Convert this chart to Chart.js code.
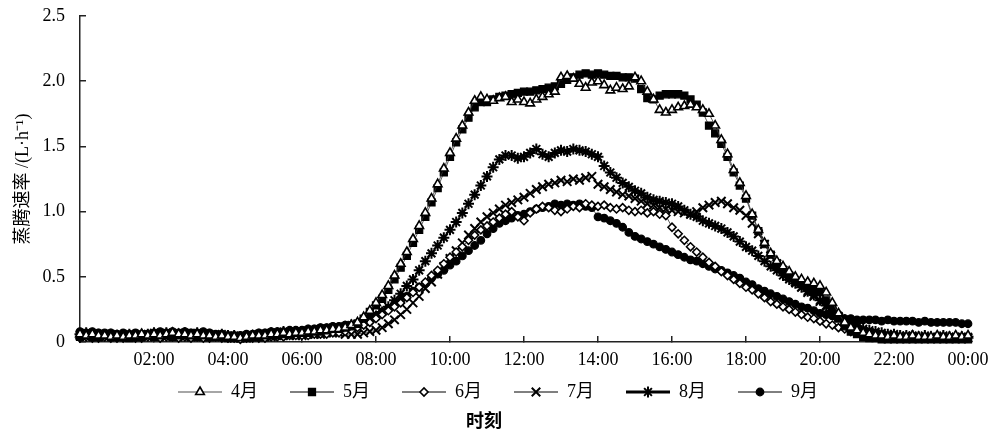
<!DOCTYPE html>
<html>
<head>
<meta charset="utf-8">
<script src="https://cdn.jsdelivr.net/npm/chart.js@4.4.1/dist/chart.umd.min.js"></script>
<style>
  html, body { margin: 0; padding: 0; background: #fff; }
  #wrap { width: 989px; height: 432px; position: relative; }
</style>
</head>
<body>
<div id="wrap"><canvas id="chart"></canvas></div>
<script>
// time of day in minutes, one reading every 10 min
const times = Array.from({ length: 145 }, (_, i) => i * 10);

const months = ['4月', '5月', '6月', '7月', '8月', '9月'];

// evaporation rate, L·h-1 (6 values per hour, 00:00 .. 24:00)
const apr = [
  0.06,0.05,0.06,0.05,0.05,0.04, 0.05,0.04,0.05,0.05,0.06,0.05, 0.06,0.05,0.06,0.07,0.06,0.06,
  0.05,0.06,0.05,0.05,0.04,0.05, 0.04,0.04,0.03,0.04,0.05,0.05, 0.05,0.06,0.06,0.07,0.06,0.07,
  0.07,0.08,0.08,0.09,0.09,0.10, 0.10,0.11,0.13,0.15,0.19,0.24, 0.30,0.36,0.43,0.51,0.60,0.69,
  0.79,0.89,0.99,1.10,1.21,1.33, 1.45,1.56,1.66,1.76,1.85,1.88, 1.86,1.85,1.87,1.88,1.84,1.86,
  1.84,1.83,1.86,1.88,1.90,1.92, 2.03,2.04,2.02,1.98,1.95,1.99, 2.00,1.97,1.93,1.95,1.94,1.96,
  2.03,2.00,1.92,1.86,1.78,1.76, 1.78,1.80,1.81,1.82,1.80,1.78, 1.75,1.66,1.55,1.44,1.32,1.22,
  1.12,0.98,0.86,0.76,0.68,0.62, 0.58,0.54,0.50,0.48,0.46,0.45, 0.43,0.38,0.30,0.22,0.15,0.11,
  0.09,0.07,0.06,0.05,0.05,0.04, 0.05,0.04,0.04,0.05,0.04,0.04, 0.04,0.05,0.04,0.04,0.05,0.04,
  0.05
];
const may = [
  0.04,0.05,0.04,0.04,0.05,0.04, 0.04,0.04,0.03,0.04,0.04,0.05, 0.04,0.05,0.05,0.04,0.05,0.05,
  0.05,0.04,0.05,0.04,0.04,0.04, 0.03,0.03,0.04,0.03,0.04,0.04, 0.05,0.05,0.05,0.06,0.06,0.07,
  0.07,0.07,0.08,0.08,0.09,0.10, 0.10,0.11,0.12,0.14,0.18,0.23, 0.28,0.33,0.40,0.48,0.57,0.66,
  0.76,0.86,0.96,1.07,1.18,1.30, 1.42,1.53,1.63,1.72,1.80,1.84, 1.84,1.86,1.88,1.89,1.90,1.91,
  1.92,1.92,1.93,1.94,1.95,1.96, 1.98,2.01,2.03,2.05,2.06,2.05, 2.06,2.05,2.04,2.04,2.03,2.03,
  2.02,1.94,1.87,1.86,1.89,1.90, 1.90,1.90,1.89,1.86,1.82,1.76, 1.66,1.60,1.52,1.42,1.30,1.20,
  1.10,0.97,0.85,0.75,0.67,0.60, 0.55,0.51,0.47,0.45,0.42,0.40, 0.38,0.32,0.25,0.18,0.12,0.08,
  0.06,0.04,0.03,0.03,0.02,0.02, 0.02,0.02,0.02,0.02,0.02,0.02, 0.02,0.02,0.02,0.02,0.02,0.02,
  0.02
];
const jun = [
  0.03,0.04,0.03,0.03,0.04,0.03, 0.03,0.03,0.04,0.03,0.03,0.04, 0.04,0.03,0.04,0.04,0.03,0.04,
  0.03,0.04,0.03,0.03,0.04,0.03, 0.03,0.03,0.02,0.03,0.03,0.03, 0.03,0.04,0.04,0.04,0.05,0.05,
  0.05,0.05,0.06,0.06,0.06,0.07, 0.07,0.08,0.09,0.11,0.13,0.15, 0.18,0.21,0.24,0.27,0.30,0.34,
  0.38,0.42,0.46,0.51,0.55,0.60, 0.65,0.69,0.73,0.78,0.82,0.86, 0.89,0.92,0.95,0.98,1.00,0.96,
  0.93,0.99,1.02,1.04,1.03,1.01, 1.00,1.02,1.04,1.03,1.06,1.05, 1.04,1.05,1.03,1.02,1.03,1.01,
  1.00,1.01,0.99,1.00,0.98,0.97, 0.88,0.83,0.78,0.73,0.69,0.65, 0.61,0.58,0.54,0.51,0.48,0.45,
  0.42,0.40,0.37,0.34,0.31,0.29, 0.27,0.25,0.23,0.21,0.19,0.18, 0.16,0.14,0.13,0.11,0.10,0.08,
  0.07,0.06,0.05,0.05,0.04,0.04, 0.04,0.04,0.03,0.04,0.03,0.03, 0.03,0.04,0.03,0.03,0.03,0.04,
  0.04
];
const jul = [
  0.05,0.04,0.05,0.04,0.04,0.05, 0.04,0.05,0.04,0.04,0.05,0.04, 0.05,0.05,0.04,0.05,0.05,0.04,
  0.04,0.05,0.04,0.04,0.05,0.04, 0.04,0.03,0.03,0.03,0.04,0.04, 0.04,0.04,0.05,0.05,0.05,0.05,
  0.05,0.06,0.06,0.06,0.07,0.07, 0.07,0.06,0.06,0.06,0.07,0.08, 0.09,0.11,0.14,0.17,0.21,0.25,
  0.30,0.35,0.41,0.46,0.52,0.58, 0.64,0.70,0.76,0.82,0.87,0.92, 0.96,0.99,1.02,1.05,1.07,1.09,
  1.11,1.14,1.17,1.19,1.21,1.22, 1.24,1.23,1.25,1.24,1.26,1.27, 1.21,1.19,1.17,1.15,1.13,1.12,
  1.10,1.08,1.06,1.05,1.03,1.02, 1.01,1.00,0.99,0.98,1.00,1.03, 1.05,1.07,1.08,1.06,1.03,1.01,
  0.97,0.91,0.83,0.75,0.66,0.60, 0.55,0.50,0.46,0.42,0.38,0.35, 0.31,0.27,0.23,0.19,0.16,0.13,
  0.10,0.08,0.07,0.05,0.05,0.04, 0.04,0.03,0.03,0.04,0.03,0.03, 0.03,0.03,0.03,0.03,0.03,0.03,
  0.03
];
const aug = [
  0.06,0.07,0.06,0.06,0.05,0.06, 0.05,0.05,0.06,0.05,0.06,0.06, 0.07,0.06,0.07,0.07,0.06,0.07,
  0.06,0.07,0.06,0.06,0.05,0.06, 0.05,0.05,0.04,0.05,0.05,0.06, 0.06,0.07,0.07,0.08,0.07,0.08,
  0.08,0.09,0.09,0.10,0.10,0.11, 0.11,0.12,0.13,0.14,0.16,0.18, 0.20,0.23,0.27,0.32,0.37,0.43,
  0.48,0.55,0.62,0.68,0.74,0.80, 0.86,0.92,0.99,1.06,1.13,1.20, 1.27,1.34,1.40,1.43,1.43,1.41,
  1.42,1.45,1.48,1.44,1.42,1.45, 1.47,1.46,1.48,1.47,1.46,1.44, 1.42,1.35,1.30,1.26,1.22,1.19,
  1.16,1.14,1.11,1.09,1.08,1.07, 1.06,1.04,1.01,0.98,0.96,0.93, 0.91,0.89,0.87,0.84,0.81,0.77,
  0.73,0.70,0.66,0.62,0.58,0.55, 0.51,0.48,0.45,0.42,0.39,0.36, 0.32,0.28,0.24,0.20,0.17,0.14,
  0.12,0.10,0.09,0.08,0.07,0.06, 0.06,0.05,0.05,0.05,0.04,0.05, 0.04,0.04,0.05,0.04,0.04,0.04,
  0.04
];
const sep = [
  0.08,0.07,0.08,0.07,0.07,0.07, 0.06,0.07,0.06,0.07,0.06,0.06, 0.07,0.08,0.07,0.08,0.07,0.08,
  0.07,0.07,0.08,0.07,0.06,0.06, 0.05,0.05,0.05,0.06,0.06,0.07, 0.07,0.08,0.08,0.08,0.09,0.09,
  0.09,0.10,0.10,0.11,0.11,0.12, 0.12,0.13,0.13,0.14,0.16,0.18, 0.20,0.23,0.26,0.29,0.32,0.35,
  0.39,0.42,0.45,0.49,0.52,0.55, 0.59,0.62,0.66,0.70,0.74,0.78, 0.83,0.87,0.91,0.93,0.95,0.97,
  0.98,1.00,1.02,1.03,1.04,1.06, 1.05,1.06,1.05,1.06,1.04,1.03, 0.96,0.95,0.93,0.91,0.88,0.84,
  0.81,0.79,0.77,0.75,0.73,0.71, 0.69,0.67,0.65,0.63,0.62,0.60, 0.58,0.56,0.55,0.53,0.51,0.49,
  0.46,0.44,0.41,0.39,0.37,0.35, 0.33,0.31,0.29,0.27,0.26,0.24, 0.22,0.21,0.20,0.19,0.18,0.18,
  0.17,0.17,0.17,0.17,0.16,0.17, 0.16,0.16,0.16,0.16,0.15,0.16, 0.15,0.15,0.15,0.15,0.15,0.14,
  0.14
];

const yTicks = [0, 0.5, 1.0, 1.5, 2.0, 2.5];

const serif = '"Liberation Serif", "Noto Sans CJK SC", serif';
const LEGEND_GAP = 28;

function pts(vals) {
  return times.map((t, i) => ({ x: t, y: vals[i] }));
}

function fmtTime(v) {
  if (v === 0) return '';
  const h = Math.round(v / 60) % 24;
  return (h < 10 ? '0' : '') + h + ':00';
}

// small canvas: line with the marker in the middle, used as legend symbol
function legendIcon(ds) {
  const c = document.createElement('canvas');
  c.width = LEGEND_GAP + 44;
  c.height = 14;
  const ctx = c.getContext('2d');
  ctx.strokeStyle = ds.legendLine;
  ctx.lineWidth = ds.legendWidth;
  ctx.beginPath();
  ctx.moveTo(LEGEND_GAP, 7);
  ctx.lineTo(LEGEND_GAP + 44, 7);
  ctx.stroke();
  ctx.fillStyle = ds.pointBackgroundColor;
  ctx.strokeStyle = '#000';
  ctx.lineWidth = ds.pointBorderWidth;
  Chart.helpers.drawPoint(ctx, {
    pointStyle: ds.pointStyle, radius: ds.pointRadius, rotation: 0, borderWidth: ds.pointBorderWidth
  }, LEGEND_GAP + 22, 7);
  return c;
}

function series(label, vals, style, radius, fill, bw, lineW, legendLine, legendWidth) {
  return {
    label: label,
    data: pts(vals),
    pointStyle: style,
    pointRadius: radius,
    pointBorderWidth: bw,
    pointBorderColor: '#000',
    pointBackgroundColor: fill,
    borderColor: '#333',
    borderWidth: lineW,
    legendLine: legendLine,
    legendWidth: legendWidth,
    tension: 0,
    clip: false
  };
}

const datasets = [
  series(months[0], apr, 'triangle', 5, '#fff', 1.6, 0.8, '#888', 1.5),
  series(months[1], may, 'rect', 5, '#000', 1.2, 0.8, '#000', 1),
  series(months[2], jun, 'rectRot', 4, '#fff', 1.6, 0.8, '#000', 1),
  series(months[3], jul, 'crossRot', 6, '#000', 2, 0.8, '#000', 1),
  series(months[4], aug, 'star', 5.5, '#000', 2, 1.8, '#000', 3),
  series(months[5], sep, 'circle', 3.8, '#000', 1.2, 0.8, '#000', 1)
];

new Chart(document.getElementById('chart'), {
  type: 'line',
  data: { datasets: datasets },
  options: {
    responsive: true,
    maintainAspectRatio: false,
    animation: false,
    layout: { padding: { top: 16, right: 21, bottom: 3, left: 0 } },
    plugins: {
      tooltip: { enabled: false },
      legend: {
        position: 'bottom',
        labels: {
          usePointStyle: true,
          pointStyleWidth: LEGEND_GAP + 44,
          padding: 4,
          color: '#000',
          font: { family: serif, size: 18 },
          generateLabels(chart) {
            return chart.data.datasets.map((ds, i) => ({
              text: ds.label,
              pointStyle: legendIcon(ds),
              datasetIndex: i,
              hidden: false,
              lineWidth: 0,
              fillStyle: 'transparent',
              strokeStyle: 'transparent',
              fontColor: '#000'
            }));
          }
        }
      },
      title: {
        display: true,
        position: 'bottom',
        text: '时刻',
        color: '#000',
        padding: 0,
        font: { family: '"Noto Sans CJK SC"', size: 18, weight: 'bold', lineHeight: 1.0 }
      }
    },
    scales: {
      x: {
        type: 'linear',
        min: 0,
        max: 1440,
        afterFit(scale) {
          scale.height = 37;
          scale.paddingLeft = 0;
          scale.paddingRight = 0;
        },
        border: { display: true, color: '#222', width: 1.5 },
        grid: { drawOnChartArea: false, drawTicks: true, tickLength: -6, color: '#222', lineWidth: 1.5 },
        ticks: {
          stepSize: 120,
          padding: 13,
          maxRotation: 0,
          autoSkip: false,
          color: '#000',
          font: { family: serif, size: 18 },
          callback: (v) => fmtTime(v)
        }
      },
      y: {
        min: 0,
        max: 2.5,
        afterFit(scale) {
          scale.width = 80;
          scale.paddingTop = 0;
          scale.paddingBottom = 0;
        },
        afterBuildTicks(scale) { scale.ticks = yTicks.map(v => ({ value: v })); },
        border: { display: true, color: '#222', width: 1.5 },
        grid: { drawOnChartArea: false, drawTicks: true, tickLength: -6, color: '#222', lineWidth: 1.5 },
        ticks: {
          padding: 21,
          color: '#000',
          font: { family: serif, size: 18 },
          callback: (v) => (v === 0 ? '0' : v.toFixed(1))
        },
        title: {
          display: true,
          text: '蒸腾速率 /(L·h⁻¹)',
          color: '#000',
          padding: { top: 12, bottom: 0 },
          font: { family: serif, size: 18 }
        }
      }
    }
  }
});
</script>
</body>
</html>
